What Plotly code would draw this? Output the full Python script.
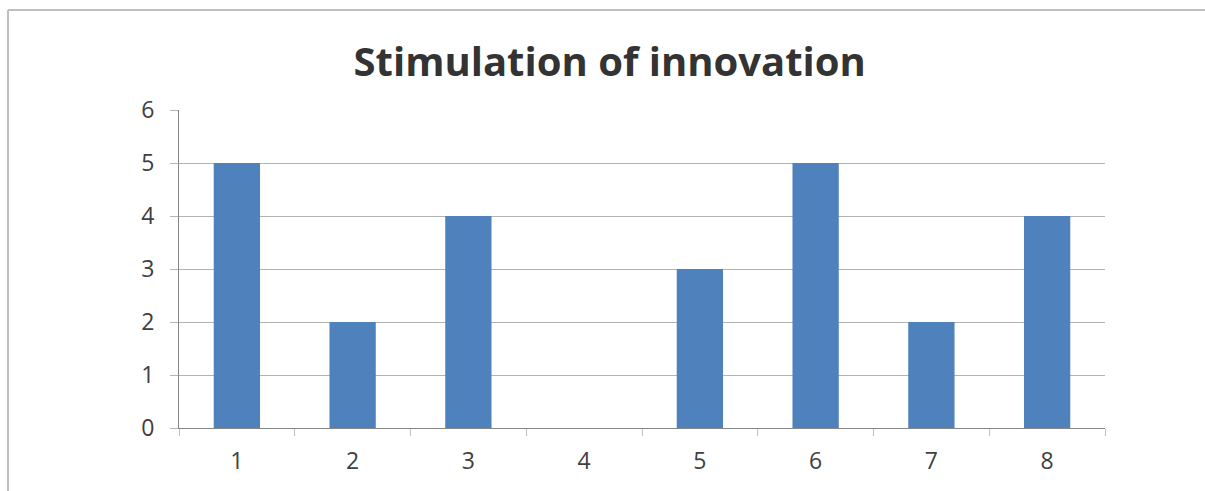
import plotly.graph_objects as go

categories = ["1", "2", "3", "4", "5", "6", "7", "8"]
values = [5, 2, 4, 0, 3, 5, 2, 4]
y_ticks = [0, 1, 2, 3, 4, 5, 6]

W, H = 1205, 491
L, R, T, B = 179, 100, 110, 63
pw, ph = W - L - R, H - T - B

fig = go.Figure(
    go.Bar(
        x=categories,
        y=values,
        marker=dict(color="#4F81BD", line=dict(width=0)),
        hoverinfo="x+y",
    )
)

# chart-area frame (left and top edges)
fx = (8 - L) / pw
fy = (H - B - 10) / ph
frame = dict(color="#BFBFBF", width=2)
fig.add_shape(type="line", xref="paper", yref="paper", x0=fx, x1=fx, y0=-1, y1=fy, line=frame)
fig.add_shape(type="line", xref="paper", yref="paper", x0=fx, x1=2, y0=fy, y1=fy, line=frame)

fig.update_layout(
    width=W,
    height=H,
    margin=dict(l=L, r=R, t=T, b=B),
    paper_bgcolor="white",
    plot_bgcolor="white",
    bargap=0.6,
    showlegend=False,
    font=dict(family="Open Sans", color="#404040"),
    title=dict(
        text="<b>Stimulation of innovation</b>",
        x=0.506,
        xanchor="center",
        y=1 - 62 / H,
        yanchor="middle",
        font=dict(family="Open Sans", size=40, color="#333333"),
    ),
    xaxis=dict(
        type="category",
        showgrid=False,
        showline=True,
        linecolor="#868686",
        linewidth=1,
        ticks="outside",
        tickson="boundaries",
        ticklen=7,
        tickcolor="#BFBFBF",
        tickfont=dict(size=23, color="#404040"),
        ticklabelstandoff=12,
    ),
    yaxis=dict(
        range=[0, 6],
        tickvals=y_ticks,
        showgrid=True,
        gridcolor="#B3B3B3",
        gridwidth=1,
        zeroline=False,
        showline=True,
        linecolor="#868686",
        linewidth=1,
        ticks="outside",
        ticklen=8,
        tickcolor="#B3B3B3",
        tickfont=dict(size=23, color="#404040"),
        ticklabelstandoff=11,
    ),
)

fig.write_html("out.html")
